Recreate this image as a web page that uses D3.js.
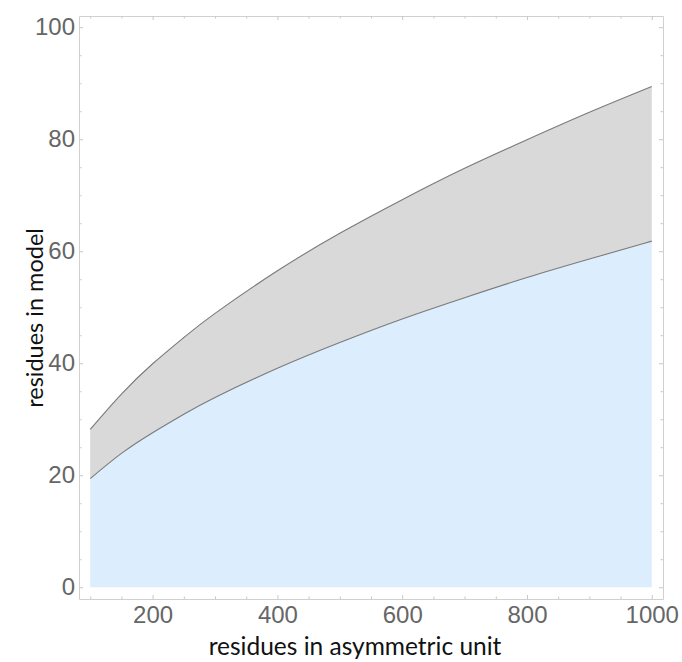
<!DOCTYPE html>
<html>
<head>
<meta charset="utf-8">
<script src="https://cdn.jsdelivr.net/npm/d3@7"></script>
<style>
  body { margin: 0; background: #fff; }
  .tick text { font-family: "Liberation Sans", Arial, sans-serif; font-size: 24px; fill: #666; }
  .tick line { stroke: #c8c8c8; }
  .domain { stroke: #d0d0d0; }
  .title { font-family: Lato, "Open Sans", sans-serif; fill: #111; }
</style>
</head>
<body>
<div id="chart"></div>
<script>
// residues in asymmetric unit
const residuesAU = [100, 150, 200, 250, 300, 400, 500, 600, 700, 800, 900, 1000]
// lower edge (blue band top) and upper edge (grey band top)
const lowerModel = [19.4, 23.9, 27.6, 30.9, 33.9, 39.1, 43.7, 47.9, 51.7, 55.3, 58.6, 61.8]
const upperModel = [28.2, 34.5, 39.9, 44.6, 48.9, 56.5, 63.2, 69.2, 74.8, 79.9, 84.8, 89.4]
const xTicks = [200, 400, 600, 800, 1000]
const yTicks = [0, 20, 40, 60, 80, 100]

const data = residuesAU.map((r, i) => ({ r: r, lo: lowerModel[i], hi: upperModel[i] }))

const W = 682, H = 662
const svg = d3.select("#chart").append("svg")
    .attr("width", W)
    .attr("height", H)

/* scales, padded like the original frame */
const x = d3.scaleLinear().domain([82, 1018]).range([79, 663])
const y = d3.scaleLinear().domain([-2.1, 102]).range([599, 16])

/* bands */
svg.append("path")
    .datum(data)
    .attr("fill", "#dcedfd")
    .attr("d", d3.area().x(d => x(d.r)).y0(y(0)).y1(d => y(d.lo)).curve(d3.curveNatural))

svg.append("path")
    .datum(data)
    .attr("fill", "#d9d9d9")
    .attr("d", d3.area().x(d => x(d.r)).y0(d => y(d.lo)).y1(d => y(d.hi)).curve(d3.curveNatural))

const line = key => d3.line().x(d => x(d.r)).y(d => y(d[key])).curve(d3.curveNatural)
svg.append("path").datum(data).attr("fill", "none").attr("stroke", "#7a7a7a").attr("stroke-width", 1.1).attr("d", line("lo"))
svg.append("path").datum(data).attr("fill", "none").attr("stroke", "#7a7a7a").attr("stroke-width", 1.1).attr("d", line("hi"))

/* frame with inward ticks */
const minorX = d3.range(100, 1001, 50).filter(v => !xTicks.includes(v))
const minorY = d3.range(0, 101, 5).filter(v => !yTicks.includes(v))

function frameAxis(axisFn, scale, major, minor, transform, labels, pad) {
    const g = svg.append("g").attr("transform", transform)
    g.call(axisFn(scale).tickValues(major).tickSizeInner(-4).tickSizeOuter(0).tickPadding(pad)
        .tickFormat(labels ? d3.format("d") : ""))
    g.append("g").call(axisFn(scale).tickValues(minor).tickSizeInner(-2.5).tickSizeOuter(0).tickFormat(""))
        .select(".domain").remove()
}

frameAxis(d3.axisBottom, x, xTicks, minorX, "translate(0,599)", true, 7)
frameAxis(d3.axisTop, x, xTicks, minorX, "translate(0,16)", false, 0)
frameAxis(d3.axisLeft, y, yTicks, minorY, "translate(79,0)", true, 4)
frameAxis(d3.axisRight, y, yTicks, minorY, "translate(663,0)", false, 0)

svg.selectAll(".tick text").attr("font-family", null).attr("font-size", null).attr("fill", null)

/* axis titles */
svg.append("text")
    .attr("class", "title")
    .attr("font-size", 24.5)
    .attr("text-anchor", "middle")
    .attr("x", 355)
    .attr("y", 655)
    .text("residues in asymmetric unit")

svg.append("text")
    .attr("class", "title")
    .attr("font-size", 23.5)
    .attr("text-anchor", "middle")
    .attr("transform", "translate(43,318) rotate(-90)")
    .text("residues in model")
</script>
</body>
</html>
